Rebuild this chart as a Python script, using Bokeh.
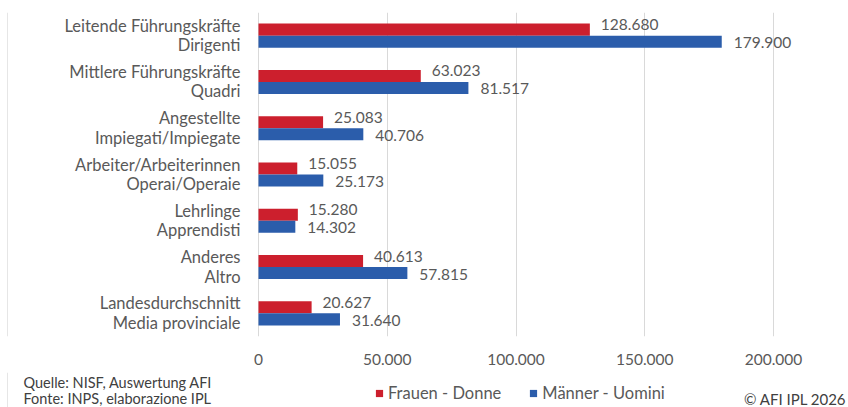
from bokeh.plotting import figure
from bokeh.layouts import column
from bokeh.models import ColumnDataSource, FixedTicker, Legend, LegendItem, Range1d, Span
from bokeh.embed import file_html
from bokeh.resources import INLINE
from bokeh.core.properties import value

# ---- data ----
cat_de = ["Leitende Führungskräfte", "Mittlere Führungskräfte", "Angestellte",
          "Arbeiter/Arbeiterinnen", "Lehrlinge", "Anderes", "Landesdurchschnitt"]
cat_it = ["Dirigenti", "Quadri", "Impiegati/Impiegate", "Operai/Operaie",
          "Apprendisti", "Altro", "Media provinciale"]
frauen = [128680, 63023, 25083, 15055, 15280, 40613, 20627]
maenner = [179900, 81517, 40706, 25173, 14302, 57815, 31640]
ticks = [0, 50000, 100000, 150000, 200000]
tick_labels = ["0", "50.000", "100.000", "150.000", "200.000"]
series_names = ["Frauen - Donne", "Männer - Uomini"]
source_lines = ["Quelle: NISF, Auswertung AFI", "Fonte: INPS, elaborazione IPL"]
copyright_text = "© AFI IPL 2026"

RED = "#CC1F2D"
BLUE = "#2B5DAB"
GREY = "#595959"
FONT = "Lato"

W = 848
H1 = 372                # chart figure height
H2 = 35                 # footer figure height
ZERO_PX = 258           # px where value 0 sits
SPAN_PX = 515           # px from 0 to 200000
ppu = SPAN_PX / 200000.0
FRAME_TOP = 12
FRAME_BOTTOM = 336

n = len(cat_de)
centers = [n - 0.5 - i for i in range(n)]
bh = 0.26


def fmt(v):
    return f"{v:,}".replace(",", ".")


src = ColumnDataSource(dict(
    yc=centers,
    yr=[c + bh / 2 for c in centers],
    yb=[c - bh / 2 for c in centers],
    f=frauen, m=maenner,
    fl=[fmt(v) for v in frauen],
    ml=[fmt(v) for v in maenner],
    de=cat_de, it=cat_it,
))

p = figure(width=W, height=H1, output_backend="svg", toolbar_location=None,
           x_range=Range1d(-ZERO_PX / ppu, (W - ZERO_PX) / ppu),
           y_range=Range1d(0, n),
           y_axis_location=None,
           min_border_left=0, min_border_right=0,
           min_border_top=FRAME_TOP, min_border_bottom=H1 - FRAME_BOTTOM)
p.outline_line_color = None
p.background_fill_color = "white"
p.border_fill_color = "white"

ticker = FixedTicker(ticks=ticks)
p.xaxis.ticker = ticker
p.xaxis.major_label_overrides = {t: l for t, l in zip(ticks, tick_labels)}
p.xaxis.axis_line_color = None
p.xaxis.major_tick_line_color = None
p.xaxis.minor_tick_line_color = None
p.xaxis.major_tick_in = 0
p.xaxis.major_tick_out = 0
p.xaxis.major_label_standoff = 17
p.xaxis.major_label_text_font = FONT
p.xaxis.major_label_text_font_size = "15.5px"
p.xaxis.major_label_text_color = GREY

p.xgrid.ticker = ticker
p.xgrid.grid_line_color = "#D9D9D9"
p.xgrid.grid_line_width = 1
p.ygrid.visible = False

# faint left border line
p.add_layout(Span(location=(7 - ZERO_PX) / ppu, dimension="height",
                  line_color="#E6E6E6", line_width=1))

r_f = p.hbar(y="yr", left=0, right="f", height=bh, source=src,
             fill_color=RED, line_color=None)
r_m = p.hbar(y="yb", left=0, right="m", height=bh, source=src,
             fill_color=BLUE, line_color=None)

p.text(x="f", y="yr", text="fl", source=src, x_offset=11, y_offset=-5,
       text_font=value(FONT), text_font_size="15.5px", text_color=GREY,
       text_baseline="middle", text_align="left")
p.text(x="m", y="yb", text="ml", source=src, x_offset=12, y_offset=1,
       text_font=value(FONT), text_font_size="15.5px", text_color=GREY,
       text_baseline="middle", text_align="left")

p.text(x=0, y="yc", text="de", source=src, x_offset=-18, y_offset=-10,
       text_font=value(FONT), text_font_size="16.5px", text_color=GREY,
       text_baseline="middle", text_align="right")
p.text(x=0, y="yc", text="it", source=src, x_offset=-18, y_offset=9.5,
       text_font=value(FONT), text_font_size="16.5px", text_color=GREY,
       text_baseline="middle", text_align="right")

# ---- footer figure (legend + source notes) ----
q = figure(width=W, height=H2, output_backend="svg", toolbar_location=None,
           x_range=Range1d(0, W), y_range=Range1d(H2, 0),
           x_axis_location=None, y_axis_location=None,
           min_border=0)
q.outline_line_color = None
q.grid.visible = False
q.background_fill_color = "white"
q.border_fill_color = "white"
q.add_layout(Span(location=7, dimension="height", line_color="#E6E6E6", line_width=1))

# legend proxies (kept outside the visible range)
e_f = q.scatter(x=[-100], y=[-100], marker="square", size=7,
                fill_color=RED, line_color=None)
e_m = q.scatter(x=[-100], y=[-100], marker="square", size=7,
                fill_color=BLUE, line_color=None)

legend = Legend(items=[LegendItem(label=series_names[0], renderers=[e_f]),
                       LegendItem(label=series_names[1], renderers=[e_m])],
                orientation="horizontal", location=(370, 4),
                glyph_width=18, glyph_height=18, label_standoff=0, spacing=23,
                padding=0, margin=0, border_line_color=None,
                background_fill_alpha=0,
                label_text_font=FONT, label_text_font_size="16.5px",
                label_text_color=GREY, label_height=16)
q.add_layout(legend, "center")

q.text(x=[23, 23], y=[10, 26], text=source_lines,
       text_font=value(FONT), text_font_size="14.5px", text_color="#404040",
       text_baseline="middle", text_align="left")
q.text(x=[846], y=[26], text=[copyright_text],
       text_font=value(FONT), text_font_size="15px", text_color="#404040",
       text_baseline="middle", text_align="right")

layout = column(p, q, spacing=0)
open("out.html", "w").write(file_html(layout, INLINE))
